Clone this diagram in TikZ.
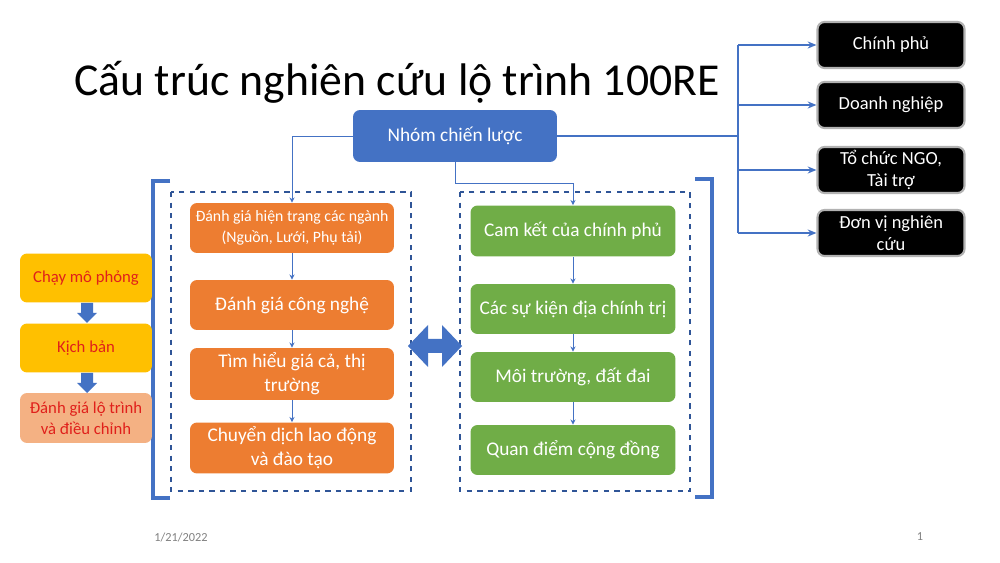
\documentclass[tikz,border=0pt]{standalone}
\usepackage{fontspec}
\setmainfont{Carlito}
\usetikzlibrary{arrows.meta}
\definecolor{blu}{HTML}{4472C4}
\definecolor{org}{HTML}{ED7D31}
\definecolor{grn}{HTML}{70AD47}
\definecolor{ylw}{HTML}{FFC000}
\definecolor{pch}{HTML}{F4B183}
\definecolor{dnv}{HTML}{2F5597}
\definecolor{rtx}{HTML}{E0201B}
\begin{document}
\begin{tikzpicture}[x=0.02cm,y=-0.02cm,
  box/.style={rounded corners=4pt,draw=none,text=white,align=center,font=\fontsize{11}{13.5}\selectfont,inner sep=0pt},
  blk/.style={rounded corners=4pt,fill=black,draw=gray!60,line width=1.2pt,text=white,align=center,font=\fontsize{10.5}{12.5}\selectfont,inner sep=0pt},
  lft/.style={rounded corners=4pt,text=rtx,align=center,font=\fontsize{9.5}{12}\selectfont,inner sep=0pt},
  thin/.style={draw=blu,line width=0.5pt,-{Stealth[length=3pt,width=3pt]}},
  conn/.style={draw=blu,line width=1pt,-{Stealth[length=5pt,width=4pt]}},
  dbox/.style={draw=dnv,dashed,line width=1pt},
  brk/.style={draw=blu,line width=2pt}]
\useasboundingbox (0,0) rectangle (1000,563);
\fill[white] (0,0) rectangle (1000,563);
\node[font=\fontsize{26}{30}\selectfont] (title) at (397,82) {Cấu trúc nghiên cứu lộ trình 100RE};
% strategy
\node[box,fill=blu,minimum width=4.08cm,minimum height=1.04cm] (nc) at (455,136) {Nhóm chiến lược};
% right black boxes
\node[blk,minimum width=2.94cm,minimum height=0.92cm] (b1) at (891,45) {Chính phủ};
\node[blk,minimum width=2.94cm,minimum height=0.92cm] (b2) at (891,105) {Doanh nghiệp};
\node[blk,minimum width=2.94cm,minimum height=0.92cm] (b3) at (891,170) {Tổ chức NGO,\\Tài trợ};
\node[blk,minimum width=2.94cm,minimum height=0.92cm] (b4) at (891,233) {Đơn vị nghiên\\cứu};
\draw[blu,line width=1pt] (nc.east) -- (738,136);
\draw[blu,line width=1pt] (738,45) -- (738,233);
\foreach \b/\y in {b1/45,b2/105,b3/170,b4/233}{\draw[conn] (738,\y) -- (\b.west);}
% dashed boxes and brackets
\draw[dbox] (171,192) rectangle (411,491);
\draw[dbox] (460,192) rectangle (690,491);
\draw[brk] (170,181) -- (153,181) -- (153,498) -- (170,498);
\draw[brk] (695,179) -- (712,179) -- (712,497) -- (695,497);
% orange
\node[box,fill=org,minimum width=4.08cm,minimum height=1.0cm,font=\fontsize{9}{12}\selectfont] (o1) at (292,228) {Đánh giá hiện trạng các ngành\\(Nguồn, Lưới, Phụ tải)};
\node[box,fill=org,minimum width=4.08cm,minimum height=1.0cm] (o2) at (292,305) {Đánh giá công nghệ};
\node[box,fill=org,minimum width=4.08cm,minimum height=1.04cm] (o3) at (292,374) {Tìm hiểu giá cả, thị\\trường};
\node[box,fill=org,minimum width=4.08cm,minimum height=1.02cm] (o4) at (292,448) {Chuyển dịch lao động\\và đào tạo};
% green
\node[box,fill=grn,minimum width=4.1cm,minimum height=1.02cm] (g1) at (573,231) {Cam kết của chính phủ};
\node[box,fill=grn,minimum width=4.1cm,minimum height=1.0cm] (g2) at (573,309) {Các sự kiện địa chính trị};
\node[box,fill=grn,minimum width=4.1cm,minimum height=1.0cm] (g3) at (573,377) {Môi trường, đất đai};
\node[box,fill=grn,minimum width=4.1cm,minimum height=1.0cm] (g4) at (573,450) {Quan điểm cộng đồng};
\draw[thin] (o1) -- (o2); \draw[thin] (o2) -- (o3); \draw[thin] (o3) -- (o4);
\draw[thin] (g1) -- (g2); \draw[thin] (g2) -- (g3); \draw[thin] (g3) -- (g4);
\draw[thin] (nc.west) -| (o1.north);
\draw[thin] (nc.south) |- (573,183) -- (g1.north);
% double arrow
\fill[blu] (408,346) -- (428,325) -- (428,339) -- (442,339) -- (442,325) -- (462,346) -- (442,367) -- (442,353) -- (428,353) -- (428,367) -- cycle;
% left boxes
\node[lft,fill=ylw,minimum width=2.64cm,minimum height=0.98cm] (l1) at (86,278) {Chạy mô phỏng};
\node[lft,fill=ylw,minimum width=2.64cm,minimum height=0.98cm] (l2) at (86,348) {Kịch bản};
\node[lft,fill=pch,minimum width=2.64cm,minimum height=1.0cm] (l3) at (86,418) {Đánh giá lộ trình\\và điều chỉnh};
\foreach \t in {303,373}{
\fill[blu] (81,\t) -- (93,\t) -- (93,\t+10) -- (97,\t+10) -- (87,\t+20) -- (77,\t+10) -- (81,\t+10) -- cycle;}
% footer
\node[text=gray,font=\fontsize{7}{8}\selectfont] (date) at (181,537) {1/21/2022};
\node[text=gray,font=\fontsize{7}{8}\selectfont] (pg) at (920,537) {1};
\end{tikzpicture}
\end{document}
